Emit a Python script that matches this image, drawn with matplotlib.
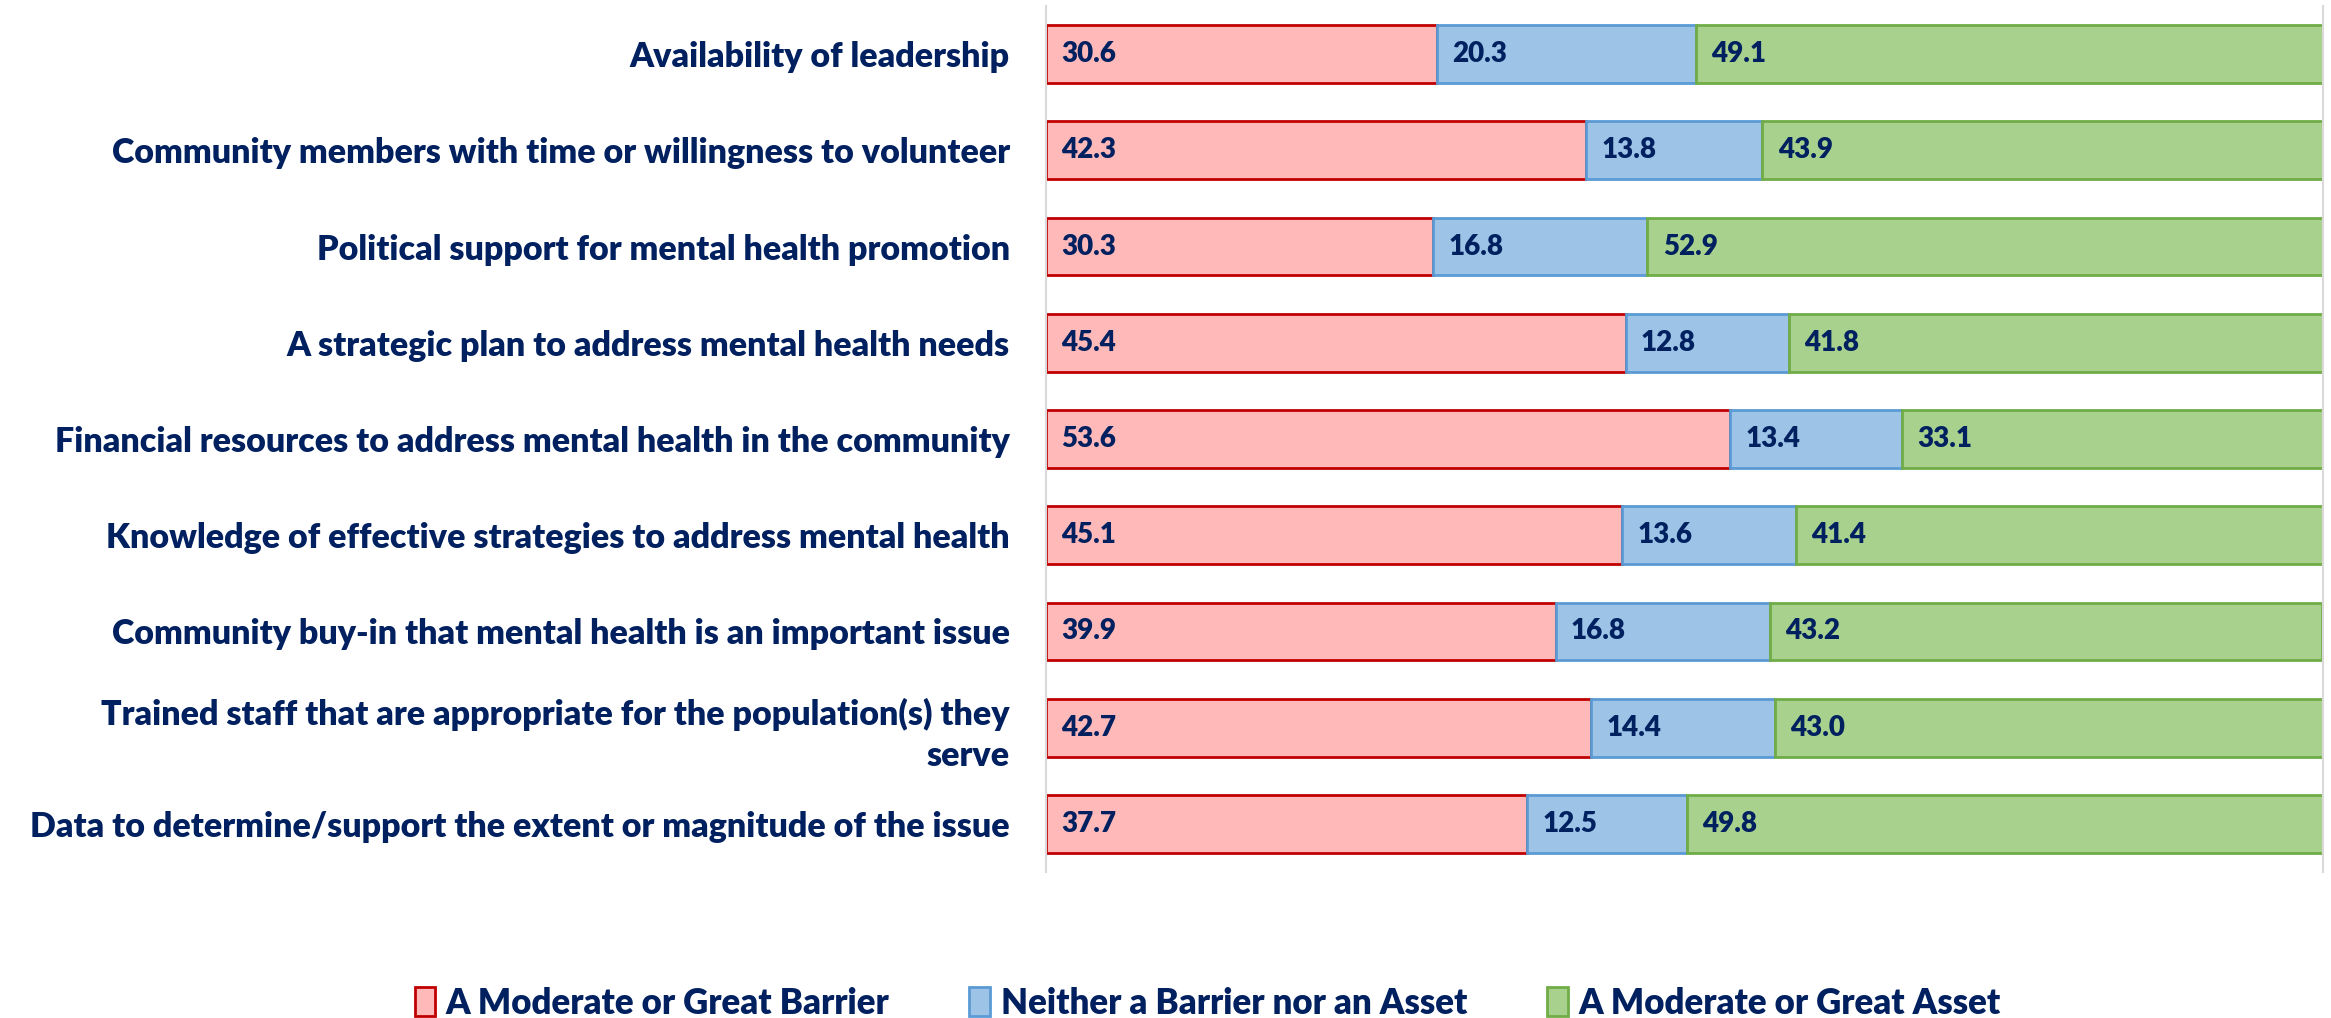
import matplotlib.pyplot as plt
from matplotlib.patches import Patch

plt.rcParams['font.family'] = ['Lato', 'DejaVu Sans']
plt.rcParams['font.weight'] = 'bold'

categories = [
    "Availability of leadership",
    "Community members with time or willingness to volunteer",
    "Political support for mental health promotion",
    "A strategic plan to address mental health needs",
    "Financial resources to address mental health in the community",
    "Knowledge of effective strategies to address mental health",
    "Community buy-in that mental health is an important issue",
    "Trained staff that are appropriate for the population(s) they\nserve",
    "Data to determine/support the extent or magnitude of the issue",
]
barrier = [30.6, 42.3, 30.3, 45.4, 53.6, 45.1, 39.9, 42.7, 37.7]
neither = [20.3, 13.8, 16.8, 12.8, 13.4, 13.6, 16.8, 14.4, 12.5]
asset = [49.1, 43.9, 52.9, 41.8, 33.1, 41.4, 43.2, 43.0, 49.8]
series_names = ["A Moderate or Great Barrier", "Neither a Barrier nor an Asset",
                "A Moderate or Great Asset"]

fills = ['#FFB9B9', '#9DC3E6', '#A9D18E']
edges = ['#C00000', '#5B9BD5', '#70AD47']
navy = '#002060'

fig = plt.figure(figsize=(23.31, 10.18), dpi=100)
ax = fig.add_axes([0.4487, 0.1434, 0.5479, 0.8507])

ypos = list(range(len(categories)))
left = [0.0] * len(categories)
for vals, fc, ec in zip([barrier, neither, asset], fills, edges):
    ax.barh(ypos, vals, left=left, height=0.6, color=fc, edgecolor=ec, linewidth=2)
    for y, l, v in zip(ypos, left, vals):
        ax.annotate(f"{v:.1f}", (l, y), xytext=(11, 0), textcoords='offset points',
                    ha='left', va='center', fontsize=20, color=navy, fontweight='heavy')
    left = [a + b for a, b in zip(left, vals)]

ax.set_xlim(0, 100)
ax.set_ylim(len(categories) - 0.5, -0.5)
ax.set_yticks(ypos)
ax.set_yticklabels(categories, fontsize=24.5, color=navy, fontweight='heavy',
                   ha='right', linespacing=1.35)
ax.tick_params(axis='y', length=0, pad=26)
ax.set_xticks([])
for s in ['top', 'bottom']:
    ax.spines[s].set_visible(False)
ax.spines['left'].set_color('#D9D9D9')
ax.spines['right'].set_color('#D9D9D9')
ax.spines['left'].set_linewidth(1.5)
ax.spines['right'].set_linewidth(1.5)

handles = [Patch(facecolor=fc, edgecolor=ec, linewidth=2) for fc, ec in zip(fills, edges)]
leg = fig.legend(handles, series_names, loc='center', bbox_to_anchor=(0.518, 0.0147),
                 ncol=3, frameon=False, fontsize=25, handlelength=0.6, handleheight=0.9,
                 handletextpad=0.3, columnspacing=2.3)
for t in leg.get_texts():
    t.set_color(navy)
    t.set_fontweight('heavy')

fig.savefig('out.png', dpi=100)
